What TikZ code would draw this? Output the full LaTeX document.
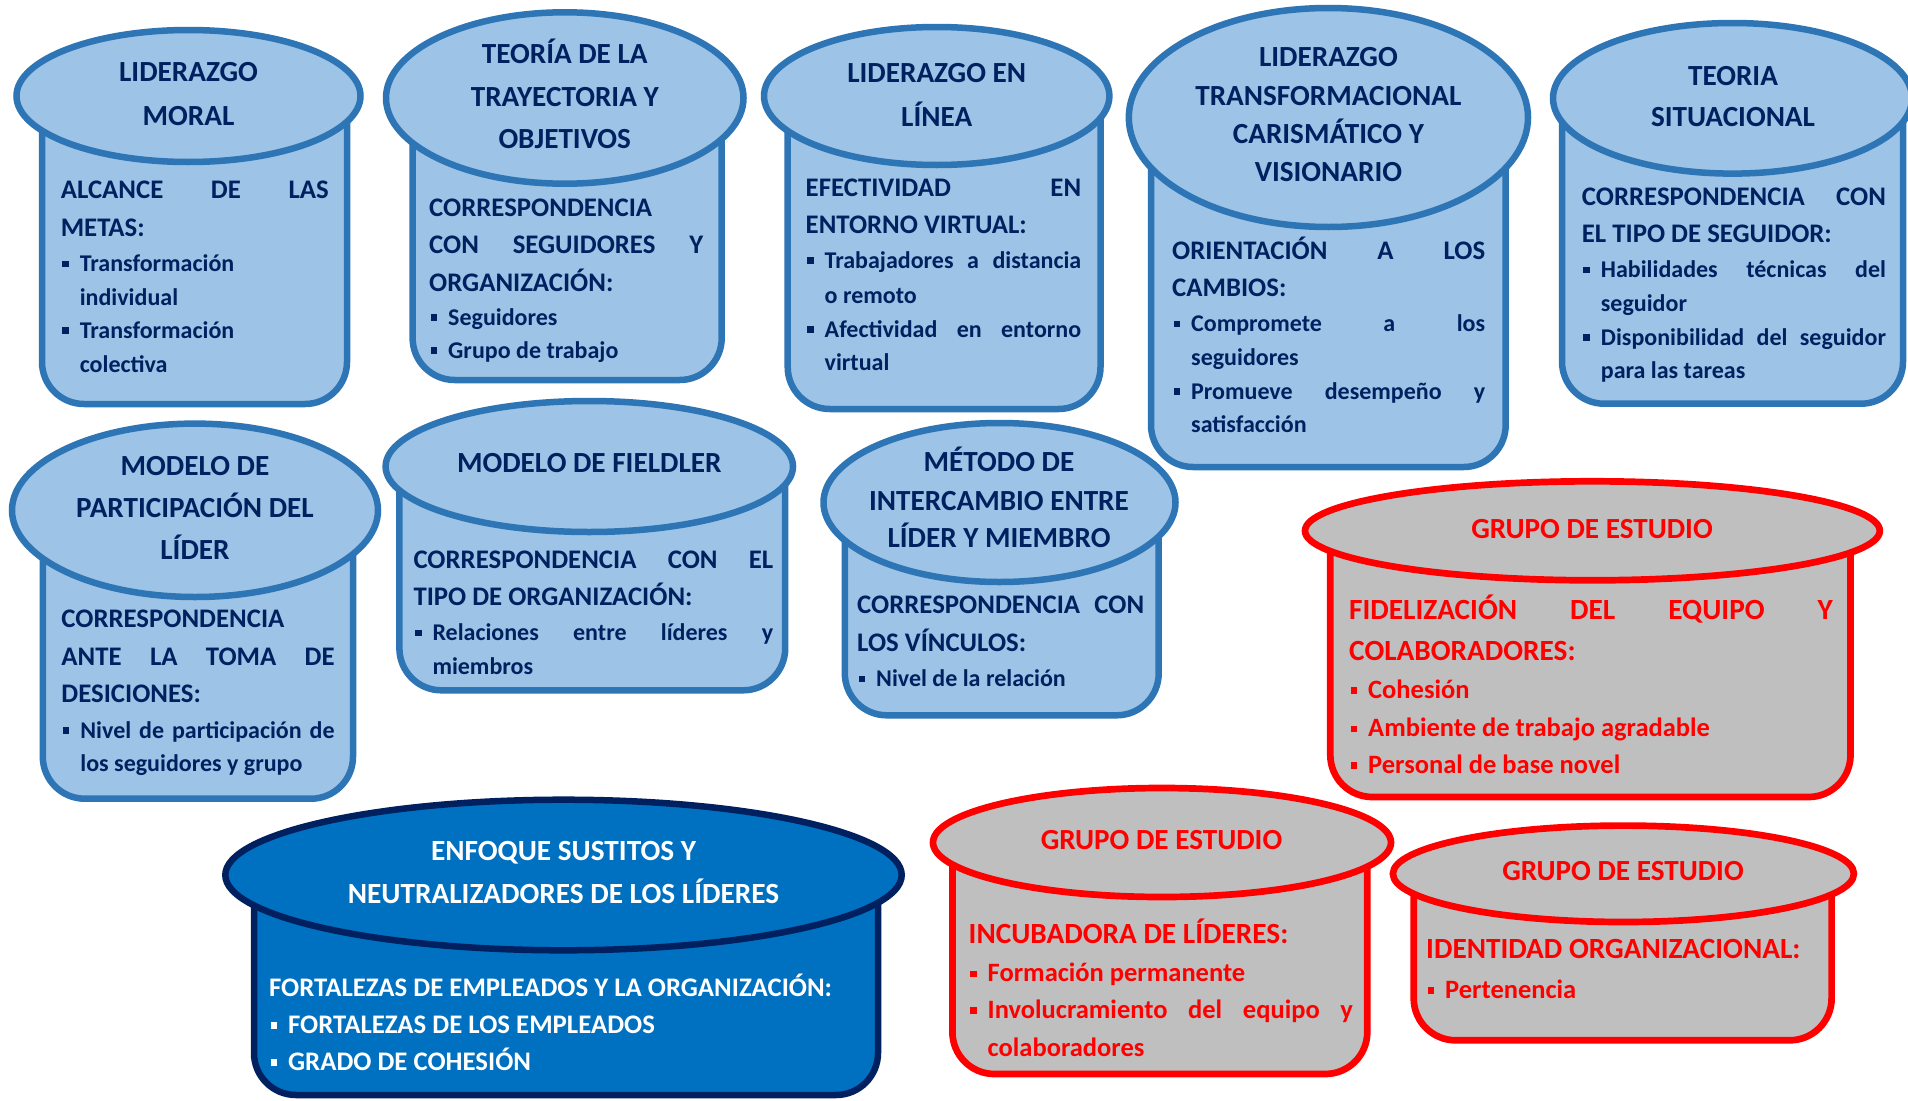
\documentclass[tikz,border=0pt]{standalone}
\usepackage{fontspec}
\setmainfont{Carlito}
\usetikzlibrary{shapes.geometric}

\definecolor{lightfill}{HTML}{9DC3E6}
\definecolor{bluedge}{HTML}{2E75B6}
\definecolor{navytext}{HTML}{002060}
\definecolor{deepfill}{HTML}{0070C0}
\definecolor{deepedge}{HTML}{002060}
\definecolor{greyfill}{HTML}{BFBFBF}
\definecolor{redline}{HTML}{FF0000}

% fonts of the three text levels (redefined per colour set)
\newcommand\headfnt{}
\newcommand\itemfnt{}
\newcommand\titlefnt{}
\newcommand\usefonts[3]{%
  \renewcommand\titlefnt{\fontsize{#1}{#1}\selectfont\bfseries}%
  \renewcommand\headfnt{\fontsize{#2}{#2}\selectfont\bfseries}%
  \renewcommand\itemfnt{\fontsize{#3}{#3}\selectfont\bfseries}}

\newlength\lw
\newlength\bulind \setlength\bulind{19pt}
\newcommand\bulmark{\makebox[\bulind][l]{\hspace{1.5pt}\rule[4.5pt]{6.5pt}{6.5pt}}}
% line kinds: J justified heading, L left heading, B bullet, BJ justified bullet, C continuation
\newcommand\mkJ[1]{{\headfnt\makebox[\lw][s]{\ignorespaces#1\unskip}}}
\newcommand\mkL[1]{{\headfnt\ignorespaces#1\unskip}}
\newcommand\mkB[1]{{\itemfnt\bulmark\ignorespaces#1\unskip}}
\newcommand\mkBJ[1]{{\itemfnt\bulmark\makebox[\dimexpr\lw-\bulind\relax][s]{\ignorespaces#1\unskip}}}
\newcommand\mkC[1]{{\itemfnt\hspace*{\bulind}\ignorespaces#1\unskip}}

% body with rounded bottom, then the elliptic lid on top
% #1 name #2 style #3 cx #4 cy #5 lid width #6 lid height #7 left #8 right #9 bottom
\newcommand\cylinder[9]{%
  \draw[#2] ({#7+3},#4) [rounded corners=42pt] -- ({#7+3},{#9-3}) -- ({#8-3},{#9-3})
        [sharp corners] -- ({#8-3},#4) -- cycle;
  \node[#2, ellipse, inner sep=0pt, minimum width={#5pt-6pt}, minimum height={#6pt-6pt}]
        (#1) at (#3,#4) {};}

% centred title lines: #1 name #2 x #3 list y/text
\newcommand\titles[3]{%
  \foreach \yy/\tx [count=\i] in {#3}
    {\node[ttl] (#1-t\i) at (#2,\yy) {\titlefnt\ignorespaces\tx\unskip};}}

% body lines: #1 name #2 left x #3 width #4 list y/kind/text
\newcommand\bodylines[4]{%
  \setlength\lw{#3pt}%
  \foreach \yy/\kk/\tx [count=\i] in {#4}
    {\node[txt] (#1-l\i) at (#2,\yy) {\csname mk\kk\endcsname{\tx}};}}

\begin{document}
\begin{tikzpicture}[x=1pt,y=-1pt,
  blueshape/.style={draw=bluedge, fill=lightfill, line width=6.5pt},
  redshape/.style={draw=redline, fill=greyfill, line width=6.7pt},
  deepshape/.style={draw=deepedge, fill=deepfill, line width=6.5pt},
  ttl/.style={anchor=base, inner sep=0pt},
  txt/.style={anchor=base west, inner sep=0pt},
  blueset/.style={every node/.append style={text=navytext}},
  redset/.style={every node/.append style={text=redline}},
  deepset/.style={every node/.append style={text=white}}]
\useasboundingbox (0,0) rectangle (1908,1100);
\clip (0,0) rectangle (1908,1100);
\fill[white] (0,0) rectangle (1908,1100);

\begin{scope}[blueset]
\usefonts{29.2}{26.8}{24}

\cylinder{e1}{blueshape}{188.5}{96}{350}{138}{39}{350}{407}
\titles{e1}{188.5}{81.7/LIDERAZGO,125/MORAL}
\bodylines{e1}{60.6}{268}{198/J/ALCANCE DE LAS,236/L/METAS:,271.7/B/Transformación,305/C/individual,338/B/Transformación,372/C/colectiva}

\cylinder{e2}{blueshape}{564.75}{98}{363.5}{177.4}{409.6}{724.7}{383}
\titles{e2}{564.75}{63.5/TEORÍA DE LA,106/TRAYECTORIA Y,148.5/OBJETIVOS}
\bodylines{e2}{429}{274}{216/L/CORRESPONDENCIA,253/J/CON SEGUIDORES Y,291/L/ORGANIZACIÓN:,325/B/Seguidores,358/B/Grupo de trabajo}

\cylinder{e3}{blueshape}{936.7}{96}{351.4}{144}{784.7}{1103.5}{412}
\titles{e3}{936.7}{82.7/LIDERAZGO EN,126/LÍNEA}
\bodylines{e3}{805.5}{275.5}{196.7/J/EFECTIVIDAD EN,233/L/ENTORNO VIRTUAL:,268/BJ/Trabajadores a distancia,303/C/o remoto,337/BJ/Afectividad en entorno,370/C/virtual}

\cylinder{e4}{blueshape}{1328.4}{117.5}{405.2}{225}{1148}{1508.7}{470}
\titles{e4}{1328.4}{66.7/LIDERAZGO,105/TRANSFORMACIONAL,143.3/CARISMÁTICO Y,181.7/VISIONARIO}
\bodylines{e4}{1172}{313}{259/J/ORIENTACIÓN A LOS,296/L/CAMBIOS:,331.7/BJ/Compromete a los,365/C/seguidores,399/BJ/Promueve desempeño y,432.7/C/satisfacción}

\cylinder{e5}{blueshape}{1732.5}{98.3}{365}{156.6}{1559}{1906}{406.7}
\titles{e5}{1733}{85/TEORIA,126.7/SITUACIONAL}
\bodylines{e5}{1581.7}{304}{205/J/CORRESPONDENCIA CON,242.7/L/EL TIPO DE SEGUIDOR:,277.7/BJ/Habilidades técnicas del,311.7/C/seguidor,345/BJ/Disponibilidad del seguidor,378/C/para las tareas}

\cylinder{e6}{blueshape}{195}{510.3}{372}{179.4}{39.8}{356}{801.7}
\titles{e6}{195}{475/MODELO DE,517.3/PARTICIPACIÓN DEL,559.3/LÍDER}
\bodylines{e6}{61.2}{273.2}{627.7/L/CORRESPONDENCIA,665.7/J/ANTE LA TOMA DE,702.7/L/DESICIONES:,738.3/BJ/Nivel de participación de,771/C/los seguidores y grupo}

\cylinder{e7}{blueshape}{589.3}{466.5}{413.4}{137}{396.4}{788.2}{693.3}
\titles{e7}{589.3}{472.7/MODELO DE FIELDLER}
\bodylines{e7}{413.3}{359.7}{568.3/J/CORRESPONDENCIA CON EL,605/L/TIPO DE ORGANIZACIÓN:,640.7/BJ/Relaciones entre líderes y,674/C/miembros}

\cylinder{e8}{blueshape}{999.5}{502.5}{358}{165}{841.8}{1161.7}{718.3}
\titles{e8}{999}{471/MÉTODO DE,510/INTERCAMBIO ENTRE,547.7/LÍDER Y MIEMBRO}
\bodylines{e8}{857}{287}{613.3/J/CORRESPONDENCIA CON,651.7/L/LOS VÍNCULOS:,686.7/B/Nivel de la relación}
\end{scope}

\begin{scope}[redset]
\usefonts{29.2}{29.3}{26.5}

\cylinder{e9}{redshape}{1592.4}{530.8}{580.8}{105}{1327.3}{1853.5}{800}
\titles{e9}{1592}{538.3/GRUPO DE ESTUDIO}
\bodylines{e9}{1349}{483.7}{619.3/J/FIDELIZACIÓN DEL EQUIPO Y,660/L/COLABORADORES:,698.3/B/Cohesión,736.7/B/Ambiente de trabajo agradable,773.3/B/Personal de base novel}

\cylinder{e11}{redshape}{1162}{842.5}{464}{115}{949.4}{1370.3}{1077}
\titles{e11}{1161.5}{849/GRUPO DE ESTUDIO}
\bodylines{e11}{968.5}{384.2}{943.3/L/INCUBADORA DE LÍDERES:,981.7/B/Formación permanente,1018.3/BJ/Involucramiento del equipo y,1056.7/C/colaboradores}

\cylinder{e12}{redshape}{1623.4}{873.8}{467}{102.4}{1410.7}{1834.6}{1043.3}
\titles{e12}{1623}{880/GRUPO DE ESTUDIO}
\bodylines{e12}{1426}{400}{958.3/L/IDENTIDAD ORGANIZACIONAL:,998.3/B/Pertenencia}
\end{scope}

\begin{scope}[deepset]
\usefonts{29.3}{26.8}{26.8}

\cylinder{e10}{deepshape}{563.5}{875}{682.4}{156.6}{251}{881}{1098}
\titles{e10}{563.5}{860.7/ENFOQUE SUSTITOS Y,903.3/NEUTRALIZADORES DE LOS LÍDERES}
\bodylines{e10}{268.9}{560}{996.7/L/FORTALEZAS DE EMPLEADOS Y LA ORGANIZACIÓN:,1033.3/B/FORTALEZAS DE LOS EMPLEADOS,1070/B/GRADO DE COHESIÓN}
\end{scope}
\end{tikzpicture}
\end{document}
